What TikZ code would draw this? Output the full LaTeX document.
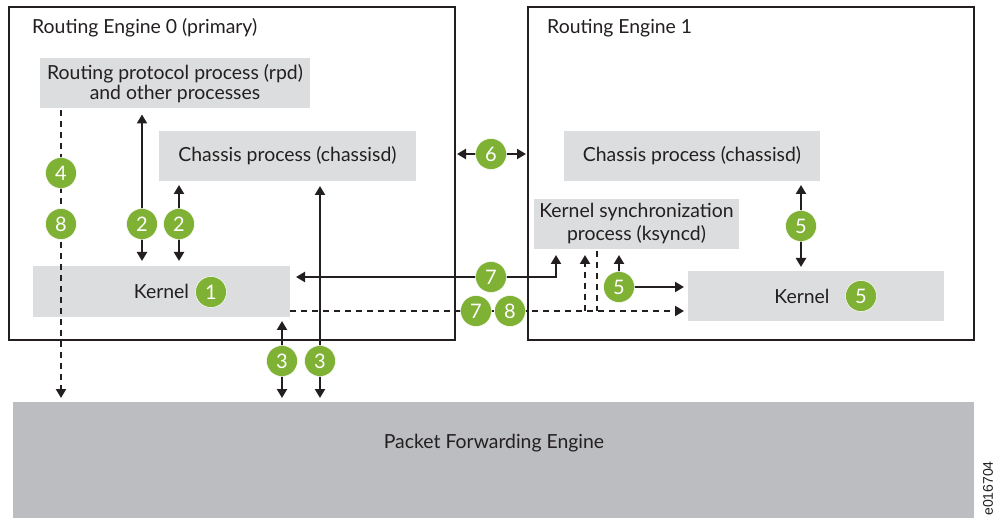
\documentclass[tikz,border=0pt]{standalone}
\usepackage{fontspec}
\setmainfont{Lato}
\newfontfamily\tagfont{Liberation Sans}
\usetikzlibrary{arrows.meta}
\definecolor{boxgray}{HTML}{DCDDDE}
\definecolor{pfegray}{HTML}{BCBDC0}
\definecolor{stepgreen}{HTML}{7FB135}
\definecolor{inkdark}{HTML}{231F20}
\tikzset{
  frame/.style={draw=inkdark, line width=2.7pt, outer sep=0pt, inner sep=0pt},
  procbox/.style={fill=boxgray, outer sep=0pt, inner sep=0pt, align=center, text=inkdark,
    font=\fontsize{19.4}{20.5}\selectfont},
  caption/.style={text=inkdark, inner sep=0pt, font=\fontsize{19.4}{21}\selectfont},
  badge/.style={circle, fill=stepgreen, draw=white, line width=0.5pt, minimum size=31pt,
    inner sep=0pt, text=white, font=\fontsize{20}{22}\selectfont},
  flow/.style={draw=inkdark, line width=2.3pt, {Triangle[width=10pt,length=9pt]}-{Triangle[width=10pt,length=9pt]}},
  flowto/.style={draw=inkdark, line width=2.3pt, -{Triangle[width=10pt,length=9pt]}},
  flowdash/.style={flowto, dash pattern=on 6pt off 5pt},
}
\begin{document}
\begin{tikzpicture}[x=1pt, y=-1pt]
  \useasboundingbox (0, 0) rectangle (993, 518);
  \node[frame, minimum width=446pt, minimum height=333pt] (engine0) at (232, 173.5) {};
  \node[frame, minimum width=446pt, minimum height=333pt] (engine1) at (751, 173.5) {};
  \node[caption, anchor=west] (title0) at (32, 28) {Routing Engine 0 (primary)};
  \node[caption, anchor=west] (title1) at (547, 28) {Routing Engine 1};
  \node[procbox, minimum width=270pt, minimum height=50pt] (rpd) at (175, 83.5) {Routing protocol process (rpd)\\and other processes};
  \node[procbox, minimum width=257pt, minimum height=50pt] (chassis0) at (287.5, 156) {Chassis process (chassisd)};
  \node[procbox, minimum width=257pt, minimum height=51pt] (kernel0) at (161.5, 291.5) {Kernel};
  \node[procbox, minimum width=256pt, minimum height=50pt] (chassis1) at (692, 156) {Chassis process (chassisd)};
  \node[procbox, minimum width=205pt, minimum height=50pt] (ksyncd) at (636.5, 224) {Kernel synchronization\\[2.5pt]process (ksyncd)};
  \node[procbox, minimum width=256pt, minimum height=50pt] (kernel1) at (816, 296) {Kernel\hspace{28pt}};
  \node[procbox, fill=pfegray, minimum width=961pt, minimum height=116pt] (pfe) at (493.5, 460) {};
  \node[caption] (pfelabel) at (494, 443) {Packet Forwarding Engine};
  \node[rotate=90, anchor=east, inner sep=0pt, text=inkdark, font=\tagfont\fontsize{14}{16}\selectfont] (tag) at (988, 461) {e016704};
  \coordinate (n4) at (61, 173);
  \coordinate (n8) at (61, 224);
  \coordinate (n2a) at (142, 224);
  \coordinate (n2b) at (179, 224);
  \coordinate (n1) at (211, 292);
  \coordinate (n6) at (491, 154);
  \coordinate (n7a) at (491, 277);
  \coordinate (n7b) at (476, 311);
  \coordinate (n8b) at (510, 311);
  \coordinate (n5a) at (619, 287);
  \coordinate (n5b) at (801, 226);
  \coordinate (n5c) at (861, 296);
  \coordinate (n3a) at (282, 361);
  \coordinate (n3b) at (320, 361);
  \coordinate (syncup) at (556, 277);
  \coordinate (syncin) at (585, 311);
  \coordinate (syncout) at (597, 311);
  \draw[flowdash, shorten <=2pt, shorten >=4pt] (rpd.south -| n4) -- (pfe.north -| n4);
  \draw[flow, shorten <=6pt, shorten >=5pt] (rpd.south -| n2a) -- (kernel0.north -| n2a);
  \draw[flow, shorten <=4pt, shorten >=5pt] (chassis0.south -| n2b) -- (kernel0.north -| n2b);
  \draw[flow, shorten <=5pt, shorten >=4pt] (chassis0.south -| n3b) -- (pfe.north -| n3b);
  \draw[flow, shorten <=4pt, shorten >=4pt] (kernel0.south -| n3a) -- (pfe.north -| n3a);
  \draw[flow, shorten <=2pt, shorten >=2pt] (engine0.east |- n6) -- (engine1.west |- n6);
  \draw[flow, shorten <=6pt, shorten >=6pt] (kernel0.east |- n7a) -- (syncup) -- (ksyncd.south -| syncup);
  \draw[flowdash, shorten >=4pt] (kernel0.east |- n7b) -- (kernel1.west |- n7b);
  \draw[flowdash, shorten >=6pt] (syncin) -- (ksyncd.south -| syncin);
  \draw[flowdash, -, shorten <=2pt] (ksyncd.south -| syncout) -- (syncout);
  \draw[flowto, shorten >=6pt] (n5a) -- (ksyncd.south -| n5a);
  \draw[flowto, shorten >=4pt] (n5a) -- (kernel1.west |- n5a);
  \draw[flow, shorten <=4pt, shorten >=4pt] (chassis1.south -| n5b) -- (kernel1.north -| n5b);
  \node[badge] (step4) at (n4) {4};
  \node[badge] (step8) at (n8) {8};
  \node[badge] (step2a) at (n2a) {2};
  \node[badge] (step2b) at (n2b) {2};
  \node[badge] (step1) at (n1) {1};
  \node[badge] (step6) at (n6) {6};
  \node[badge] (step7a) at (n7a) {7};
  \node[badge] (step7b) at (n7b) {7};
  \node[badge] (step8b) at (n8b) {8};
  \node[badge] (step5a) at (n5a) {5};
  \node[badge] (step5b) at (n5b) {5};
  \node[badge] (step5c) at (n5c) {5};
  \node[badge] (step3a) at (n3a) {3};
  \node[badge] (step3b) at (n3b) {3};
\end{tikzpicture}
\end{document}
